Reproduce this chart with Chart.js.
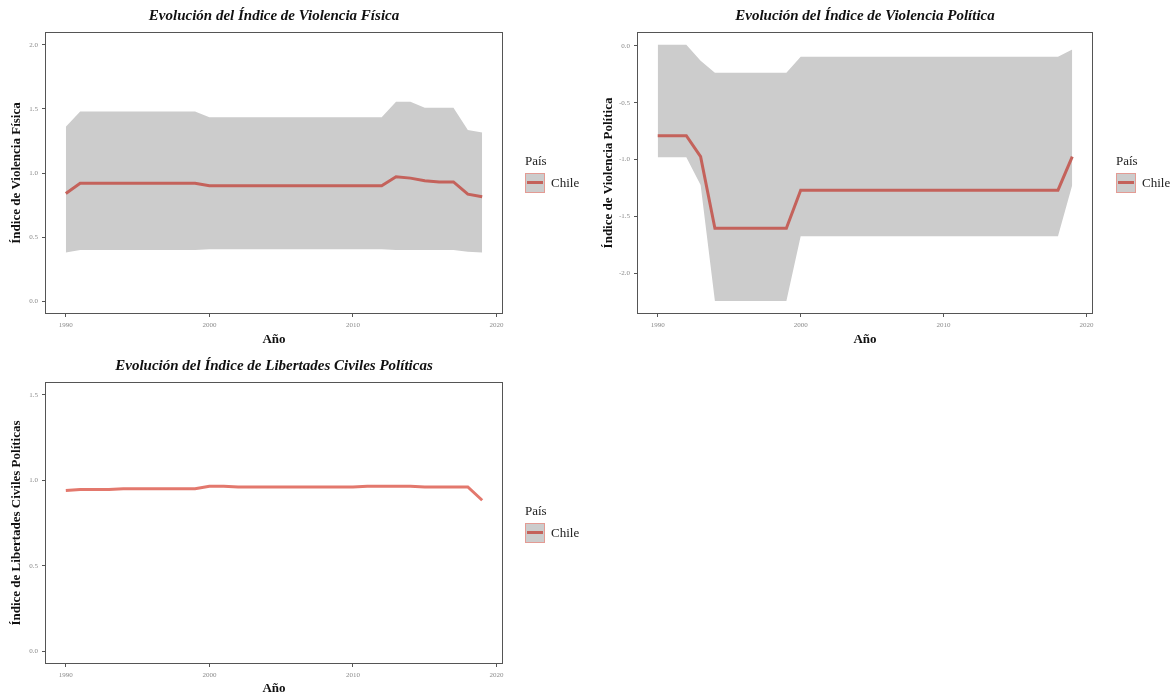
<!DOCTYPE html>
<html lang="es">
<head>
<meta charset="utf-8">
<title>Chile - índices de violencia y libertades</title>
<script src="https://cdn.jsdelivr.net/npm/chart.js@4.4.1/dist/chart.umd.min.js"></script>
<style>
  html, body { margin: 0; padding: 0; background: #fff; overflow: hidden; }
  body { width: 1176px; height: 696px; position: relative; font-family: "Liberation Serif", serif; }
  .panel { position: absolute; }
  .legend { position: absolute; font-size: 13px; color: #222; line-height: 16px; }
  .legend .row { display: flex; align-items: center; margin-top: 4px; }
  .legend .key { position: relative; width: 20px; height: 20px; box-sizing: border-box; background: #cccccc; border: 1px solid #e39b94; margin-right: 6px; }
  .legend .key::after { content: ""; position: absolute; left: 1px; right: 1px; top: 7px; height: 3px; background: var(--line); }
</style>
</head>
<body>

<canvas id="fisicaChart" class="panel" width="590" height="350" style="left:0;top:0;"></canvas>
<canvas id="politicaChart" class="panel" width="586" height="350" style="left:590px;top:0;"></canvas>
<canvas id="libertadesChart" class="panel" width="590" height="346" style="left:0;top:350px;"></canvas>

<div class="legend" style="left:525px;top:153px;--line:#c4625b;">
  <div>País</div>
  <div class="row"><span class="key"></span><span>Chile</span></div>
</div>
<div class="legend" style="left:1116px;top:153px;--line:#c4625b;">
  <div>País</div>
  <div class="row"><span class="key"></span><span>Chile</span></div>
</div>
<div class="legend" style="left:525px;top:503px;--line:#c4625b;">
  <div>País</div>
  <div class="row"><span class="key"></span><span>Chile</span></div>
</div>

<script>
// años observados
const years = [1990, 1991, 1992, 1993, 1994, 1995, 1996, 1997, 1998, 1999,
               2000, 2001, 2002, 2003, 2004, 2005, 2006, 2007, 2008, 2009,
               2010, 2011, 2012, 2013, 2014, 2015, 2016, 2017, 2018, 2019];

// Índice de Violencia Física (estimación e intervalo)
const fisicaLine  = [0.84, 0.92, 0.92, 0.92, 0.92, 0.92, 0.92, 0.92, 0.92, 0.92,
                     0.90, 0.90, 0.90, 0.90, 0.90, 0.90, 0.90, 0.90, 0.90, 0.90,
                     0.90, 0.90, 0.90, 0.97, 0.96, 0.94, 0.93, 0.93, 0.835, 0.815];
const fisicaUpper = [1.36, 1.48, 1.48, 1.48, 1.48, 1.48, 1.48, 1.48, 1.48, 1.48,
                     1.435, 1.435, 1.435, 1.435, 1.435, 1.435, 1.435, 1.435, 1.435, 1.435,
                     1.435, 1.435, 1.435, 1.555, 1.555, 1.51, 1.51, 1.51, 1.335, 1.315];
const fisicaLower = [0.38, 0.40, 0.40, 0.40, 0.40, 0.40, 0.40, 0.40, 0.40, 0.40,
                     0.405, 0.405, 0.405, 0.405, 0.405, 0.405, 0.405, 0.405, 0.405, 0.405,
                     0.405, 0.405, 0.405, 0.40, 0.40, 0.40, 0.40, 0.40, 0.385, 0.38];

// Índice de Violencia Política
const politicaLine  = [-0.79, -0.79, -0.79, -0.975, -1.605, -1.605, -1.605, -1.605, -1.605, -1.605,
                       -1.27, -1.27, -1.27, -1.27, -1.27, -1.27, -1.27, -1.27, -1.27, -1.27,
                       -1.27, -1.27, -1.27, -1.27, -1.27, -1.27, -1.27, -1.27, -1.27, -0.975];
const politicaUpper = [0.01, 0.01, 0.01, -0.13, -0.235, -0.235, -0.235, -0.235, -0.235, -0.235,
                       -0.095, -0.095, -0.095, -0.095, -0.095, -0.095, -0.095, -0.095, -0.095, -0.095,
                       -0.095, -0.095, -0.095, -0.095, -0.095, -0.095, -0.095, -0.095, -0.095, -0.03];
const politicaLower = [-0.98, -0.98, -0.98, -1.225, -2.245, -2.245, -2.245, -2.245, -2.245, -2.245,
                       -1.675, -1.675, -1.675, -1.675, -1.675, -1.675, -1.675, -1.675, -1.675, -1.675,
                       -1.675, -1.675, -1.675, -1.675, -1.675, -1.675, -1.675, -1.675, -1.675, -1.225];

// Índice de Libertades Civiles Políticas
const libertadesLine = [0.94, 0.946, 0.946, 0.946, 0.951, 0.951, 0.951, 0.951, 0.951, 0.951,
                        0.965, 0.965, 0.961, 0.961, 0.961, 0.961, 0.961, 0.961, 0.961, 0.961,
                        0.961, 0.965, 0.965, 0.965, 0.965, 0.961, 0.961, 0.961, 0.961, 0.883];

// marcas de los ejes
const yearTicks = [1990, 2000, 2010, 2020];
const fisicaTicks = [0, 0.5, 1, 1.5, 2];
const politicaTicks = [-2, -1.5, -1, -0.5, 0];
const libertadesTicks = [0, 0.5, 1, 1.5];

const FONT = '"Liberation Serif", "DejaVu Serif", serif';
const RIBBON = '#cccccc';

const panelFrame = {
    id: 'panelFrame',
    afterDatasetsDraw(chart) {
        const {ctx, chartArea: a} = chart;
        ctx.save();
        ctx.strokeStyle = '#555555';
        ctx.lineWidth = 1;
        const l = Math.round(a.left) + 0.5, t = Math.round(a.top) + 0.5;
        const r = Math.round(a.right) - 0.5, b = Math.round(a.bottom) - 0.5;
        ctx.strokeRect(l, t, r - l, b - t);
        ctx.restore();
    }
};

const toPoints = values => values.map((v, i) => ({x: years[i], y: v}));

function buildPanel(canvasId, cfg) {
    const ctx = document.getElementById(canvasId);
    if (!ctx) return;

    const datasets = [{
        label: 'Chile',
        data: toPoints(cfg.line),
        borderColor: cfg.lineColor,
        borderWidth: 3,
        pointRadius: 0,
        fill: false
    }];
    if (cfg.upper) {
        datasets.push({
            label: 'superior',
            data: toPoints(cfg.upper),
            borderColor: 'rgba(0,0,0,0)',
            borderWidth: 0,
            pointRadius: 0,
            backgroundColor: RIBBON,
            fill: '+1'
        });
        datasets.push({
            label: 'inferior',
            data: toPoints(cfg.lower),
            borderColor: 'rgba(0,0,0,0)',
            borderWidth: 0,
            pointRadius: 0,
            fill: false
        });
    }

    return new Chart(ctx, {
        type: 'line',
        data: {datasets: datasets},
        options: {
            responsive: false,
            animation: false,
            devicePixelRatio: 1,
            layout: {padding: {left: 0, top: 0, right: cfg.rightPad, bottom: 0}},
            plugins: {
                legend: {display: false},
                tooltip: {enabled: false},
                title: {
                    display: true,
                    text: cfg.title,
                    fullSize: false,
                    color: '#111',
                    font: {family: FONT, size: 15, weight: 'bold', style: 'italic'},
                    padding: {top: 7, bottom: 7}
                }
            },
            scales: {
                x: {
                    type: 'linear',
                    min: 1988.55,
                    max: 2020.45,
                    afterBuildTicks: s => { s.ticks = yearTicks.map(v => ({value: v})); },
                    afterFit: s => { s.height = cfg.xAxisHeight; },
                    ticks: {
                        callback: v => String(v),
                        font: {family: FONT, size: 7},
                        color: '#8a8a8a',
                        padding: 4,
                        maxRotation: 0,
                        autoSkip: false
                    },
                    grid: {drawOnChartArea: false, drawTicks: true, tickLength: 3, color: '#555'},
                    border: {display: false},
                    title: {
                        display: true,
                        text: 'Año',
                        color: '#111',
                        font: {family: FONT, size: 13, weight: 'bold'},
                        padding: {top: 0, bottom: cfg.xTitlePad}
                    }
                },
                y: {
                    min: cfg.yMin,
                    max: cfg.yMax,
                    afterBuildTicks: s => { s.ticks = cfg.yTicks.map(v => ({value: v})); },
                    afterFit: s => { s.width = cfg.yAxisWidth; },
                    ticks: {
                        callback: v => v.toFixed(1),
                        font: {family: FONT, size: 7},
                        color: '#8a8a8a',
                        padding: 4,
                        autoSkip: false
                    },
                    grid: {drawOnChartArea: false, drawTicks: true, tickLength: 3, color: '#555'},
                    border: {display: false},
                    title: {
                        display: true,
                        text: cfg.yTitle,
                        color: '#111',
                        font: {family: FONT, size: 13, weight: 'bold'},
                        padding: {top: cfg.yTitlePad, bottom: 0}
                    }
                }
            }
        },
        plugins: [panelFrame]
    });
}

buildPanel('fisicaChart', {
    title: 'Evolución del Índice de Violencia Física',
    yTitle: 'Índice de Violencia Física',
    line: fisicaLine, upper: fisicaUpper, lower: fisicaLower,
    lineColor: '#c4625b',
    yMin: -0.1, yMax: 2.1, yTicks: fisicaTicks,
    rightPad: 87, yAxisWidth: 45, yTitlePad: 9,
    xAxisHeight: 36, xTitlePad: 3
});

buildPanel('politicaChart', {
    title: 'Evolución del Índice de Violencia Política',
    yTitle: 'Índice de Violencia Política',
    line: politicaLine, upper: politicaUpper, lower: politicaLower,
    lineColor: '#c4625b',
    yMin: -2.36, yMax: 0.123, yTicks: politicaTicks,
    rightPad: 83, yAxisWidth: 47, yTitlePad: 11,
    xAxisHeight: 36, xTitlePad: 3
});

buildPanel('libertadesChart', {
    title: 'Evolución del Índice de Libertades Civiles Políticas',
    yTitle: 'Índice de Libertades Civiles Políticas',
    line: libertadesLine,
    lineColor: '#e3786d',
    yMin: -0.075, yMax: 1.575, yTicks: libertadesTicks,
    rightPad: 87, yAxisWidth: 45, yTitlePad: 9,
    xAxisHeight: 32, xTitlePad: 0
});
</script>
</body>
</html>
